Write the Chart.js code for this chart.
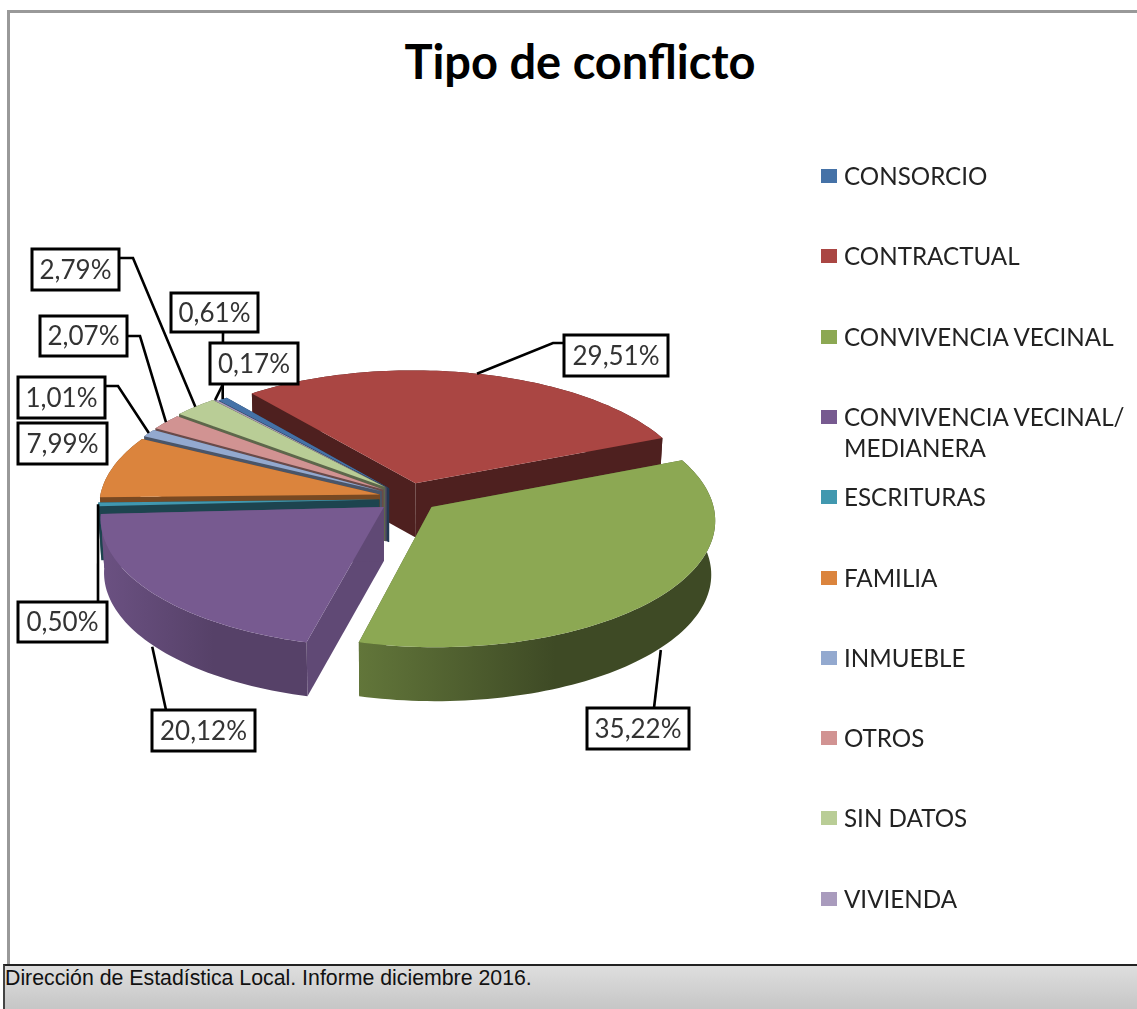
<!DOCTYPE html>
<html>
<head>
<meta charset="utf-8">
<title>Tipo de conflicto</title>
<script src="https://cdn.jsdelivr.net/npm/chart.js@4"></script>
<style>
    html, body { margin: 0; padding: 0; background: #fff; overflow: hidden; }
    #frame { position: absolute; left: 7px; top: 10px; width: 1130px; height: 955px; border-top: 3px solid #999; border-left: 3px solid #999; box-sizing: border-box; }
    #chartTitle { position: absolute; left: 0; width: 1160px; top: 33px; text-align: center; font: 700 47px/56px Lato, sans-serif; color: #000; }
    #myPie { position: absolute; left: 0; top: 0; }
    #legend { position: absolute; left: 0; top: 0; }
    .item { position: absolute; left: 821px; width: 316px; font: 24.2px/31px Lato, sans-serif; color: #222; }
    .item i { position: absolute; left: 0; top: 9px; width: 16px; height: 14px; }
    .item span { display: block; margin-left: 23px; }
    #footer { position: absolute; left: 3px; top: 964px; width: 1134px; height: 45px; box-sizing: border-box; border-top: 2px solid #222; border-left: 2px solid #444;
        background: linear-gradient(#dedede, #c6c6c6); font: 21.3px/24px "Liberation Sans", Arial, sans-serif; color: #111; }
</style>
</head>
<body>
<div id="frame"></div>
<div id="chartTitle">Tipo de conflicto</div>
<canvas id="myPie" width="1137" height="965"></canvas>
<div id="legend"></div>
<div id="footer">Dirección de Estadística Local. Informe diciembre 2016.</div>
<script>
const categories = ['CONSORCIO', 'CONTRACTUAL', 'CONVIVENCIA VECINAL', 'CONVIVENCIA VECINAL/ MEDIANERA', 'ESCRITURAS', 'FAMILIA', 'INMUEBLE', 'OTROS', 'SIN DATOS', 'VIVIENDA'];
const values = [0.61, 29.51, 35.22, 20.12, 0.50, 7.99, 1.01, 2.07, 2.79, 0.17];
const colors = ['#4572A7', '#AA4643', '#8CA853', '#775A90', '#4198AF', '#DB843D', '#93A9CF', '#D19392', '#B9CD96', '#A99BBD'];

// how far each slice is pulled out of the pie, in radii (across, towards the viewer)
const pull = [[0.015, 0.01], [0.11, -0.03], [0.165, 0.16], [-0.004, 0.16], [-0.02, 0.10], [-0.018, 0.06], [-0.012, 0.035], [-0.006, 0.02], [0, 0], [0.005, 0.004]];
// wall brightness, left and right side of each slice
const wallShade = [[0.5, 0.5], [0.46, 0.46], [0.7, 0.44], [0.9, 0.72], [0.45, 0.45], [0.55, 0.55], [0.5, 0.5], [0.5, 0.5], [0.5, 0.5], [0.5, 0.5]];
const drawOrder = [1, 0, 9, 8, 7, 6, 5, 4, 3, 2];

// label boxes [left, top, right, bottom] and the leader points going to them
const labelBoxes = [[171, 293, 258, 332], [564, 335, 668, 376], [587, 708, 689, 749], [152, 710, 255, 751], [18, 602, 107, 642], [18, 423, 107, 464], [18, 377, 105, 418], [40, 316, 127, 356], [32, 249, 119, 290], [210, 343, 298, 384]];
const leaders = [[[223, 332]], [[553, 343], [565, 343]], [[654, 708]], [[166, 710]], [[98, 602]], null, [[118, 386], [105, 386]], [[140, 336], [127, 336]], [[133, 258], [119, 258]], [[223, 384]]];

const squash = 0.445;
const perspective = 0.09;
const depth = 0.194;
const bottomScale = 0.988;

function project(arc, u, v) {
    var s = 1 / (1 - perspective * v);
    return [arc.x + arc.outerRadius * u * s, arc.y + squash * arc.outerRadius * v * s];
}

function shade(hex, f) {
    var n = parseInt(hex.slice(1), 16);
    return 'rgb(' + Math.round((n >> 16) * f) + ',' + Math.round(((n >> 8) & 255) * f) + ',' + Math.round((n & 255) * f) + ')';
}

function rimPoints(arc, i) {
    var pts = [];
    var steps = Math.max(2, Math.ceil((arc.endAngle - arc.startAngle) * 40));
    for (var k = 0; k <= steps; k++) {
        var a = arc.startAngle + (arc.endAngle - arc.startAngle) * k / steps;
        pts.push(project(arc, Math.cos(a) + pull[i][0], Math.sin(a) + pull[i][1]));
    }
    return pts;
}

function fillPath(ctx, pts, style) {
    ctx.beginPath();
    pts.forEach((p, n) => n ? ctx.lineTo(p[0], p[1]) : ctx.moveTo(p[0], p[1]));
    ctx.closePath();
    ctx.fillStyle = style;
    ctx.fill();
}

const pie3d = {
    id: 'pie3d',
    // the arcs keep their angles from Chart.js, only the drawing is tilted
    beforeDatasetDraw(chart) {
        var ctx = chart.ctx;
        var arcs = chart.getDatasetMeta(0).data;
        drawOrder.forEach(i => {
            var arc = arcs[i];
            var h = depth * arc.outerRadius;
            var apex = project(arc, pull[i][0], pull[i][1]);
            var rim = rimPoints(arc, i);
            var down = p => [arc.x + (p[0] - arc.x) * bottomScale, p[1] + h];
            var first = rim[0], last = rim[rim.length - 1];
            var xs = rim.map(p => p[0]);
            var grad = ctx.createLinearGradient(Math.min(...xs), 0, Math.max(...xs), 0);
            grad.addColorStop(0, shade(colors[i], wallShade[i][0]));
            grad.addColorStop(0.55, shade(colors[i], wallShade[i][1]));
            grad.addColorStop(1, shade(colors[i], wallShade[i][1]));
            var flat = shade(colors[i], (wallShade[i][0] + wallShade[i][1]) / 2);
            fillPath(ctx, [apex, first, down(first), down(apex)], flat);
            fillPath(ctx, [apex, last, down(last), down(apex)], flat);
            fillPath(ctx, rim.concat(rim.map(down).reverse()), grad);
            fillPath(ctx, [apex].concat(rim), colors[i]);
        });
        return false;
    },
    afterDatasetsDraw(chart) {
        var ctx = chart.ctx;
        var arcs = chart.getDatasetMeta(0).data;
        ctx.save();
        ctx.strokeStyle = '#000';
        ctx.lineWidth = 2.6;
        leaders.forEach((pts, i) => {
            if (!pts) return;
            var arc = arcs[i];
            var mid = (arc.startAngle + arc.endAngle) / 2;
            var p = project(arc, Math.cos(mid) + pull[i][0], Math.sin(mid) + pull[i][1]);
            if (Math.sin(mid) > 0.2) p[1] += depth * arc.outerRadius;
            ctx.beginPath();
            ctx.moveTo(p[0], p[1]);
            pts.forEach(q => ctx.lineTo(q[0], q[1]));
            ctx.stroke();
        });
        ctx.font = '26px Lato, sans-serif';
        ctx.textAlign = 'center';
        ctx.textBaseline = 'middle';
        labelBoxes.forEach((b, i) => {
            ctx.fillStyle = '#fff';
            ctx.fillRect(b[0], b[1], b[2] - b[0], b[3] - b[1]);
            ctx.lineWidth = 3;
            ctx.strokeRect(b[0], b[1], b[2] - b[0], b[3] - b[1]);
            ctx.fillStyle = '#333';
            ctx.fillText(values[i].toFixed(2).replace('.', ',') + '%', (b[0] + b[2]) / 2, (b[1] + b[3]) / 2 + 1);
        });
        ctx.restore();
    }
};

var myPie = new Chart(document.getElementById('myPie').getContext('2d'), {
    type: 'pie',
    data: {
        labels: categories,
        datasets: [{ data: values, backgroundColor: colors, borderWidth: 0, hoverOffset: 0 }]
    },
    options: {
        responsive: false,
        animation: false,
        rotation: -40.8,
        layout: { padding: { left: 107, right: 474, top: 209, bottom: 200 } },
        plugins: { legend: { display: false }, tooltip: { enabled: false } }
    },
    plugins: [pie3d]
});

var legend = document.getElementById('legend');
categories.forEach((name, i) => {
    var row = document.createElement('div');
    row.className = 'item';
    row.style.top = (160 + i * 80.3) + 'px';
    row.innerHTML = '<i style="background:' + colors[i] + '"></i><span>' + name + '</span>';
    legend.appendChild(row);
});
</script>
</body>
</html>
